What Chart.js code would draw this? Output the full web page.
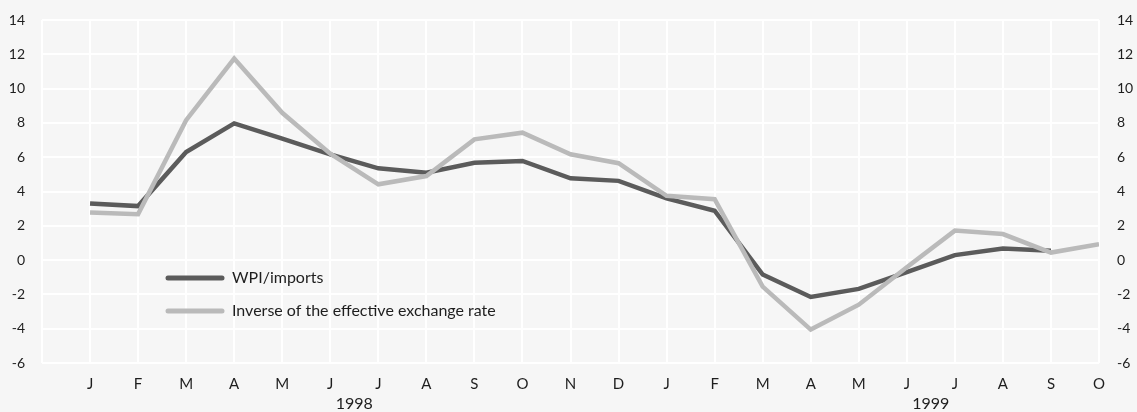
<!DOCTYPE html>
<html>
<head>
<meta charset="utf-8">
<script src="https://cdn.jsdelivr.net/npm/chart.js@4.4.1/dist/chart.umd.min.js"></script>
<style>
  html, body { margin: 0; padding: 0; background: #f6f6f6; }
  #wrap { width: 1137px; height: 412px; position: relative; }
</style>
</head>
<body>
<div id="wrap"><canvas id="chart"></canvas></div>
<script>
// month letters, Jan 1998 .. Oct 1999
const months = ["J","F","M","A","M","J","J","A","S","O","N","D",
                "J","F","M","A","M","J","J","A","S","O"];
const years = ["1998", "1999"];
const seriesNames = ["WPI/imports", "Inverse of the effective exchange rate"];

// year-on-year % change
const wpiImports = [3.3, 3.15, 6.3, 7.97, 7.08, 6.17, 5.35, 5.1, 5.68, 5.78, 4.77, 4.62,
                    3.6, 2.88, -0.84, -2.15, -1.68, -0.7, 0.29, 0.68, 0.54, null];
const inverseRate = [2.77, 2.68, 8.16, 11.75, 8.59, 6.2, 4.42, 4.9, 7.04, 7.43, 6.17, 5.65,
                     3.75, 3.55, -1.55, -4.05, -2.6, -0.42, 1.72, 1.52, 0.44, 0.93];

const yMin = -6, yMax = 14, yStep = 2;

const DARK = "#5b5b5b";
const LIGHT = "#bababa";
const TEXT = "#1e1e1e";
const FONT = "Lato";

Chart.defaults.font.family = FONT;
Chart.defaults.font.size = 14;
Chart.defaults.color = TEXT;

const toPoints = arr => arr.map((v, i) => ({ x: i, y: v }));

// year captions under the month letters
const yearLabels = {
  id: "yearLabels",
  afterDraw(chart) {
    const { ctx, scales: { x } } = chart;
    ctx.save();
    ctx.font = "16px " + FONT;
    ctx.fillStyle = TEXT;
    ctx.textAlign = "center";
    ctx.textBaseline = "middle";
    years.forEach((y, i) => {
      ctx.fillText(y, x.getPixelForValue(i * 12 + 5.5), 404);
    });
    ctx.restore();
  }
};

// legend sitting inside the plot, lower left
const innerLegend = {
  id: "innerLegend",
  afterDatasetsDraw(chart) {
    const { ctx, chartArea } = chart;
    const x0 = chartArea.left + 124;
    const rows = [
      { label: seriesNames[0], color: DARK, y: 278 },
      { label: seriesNames[1], color: LIGHT, y: 311 }
    ];
    ctx.save();
    ctx.lineWidth = 5;
    ctx.lineCap = "round";
    ctx.font = "16px " + FONT;
    ctx.textBaseline = "middle";
    rows.forEach(r => {
      ctx.strokeStyle = r.color;
      ctx.beginPath();
      ctx.moveTo(x0 + 2, r.y);
      ctx.lineTo(x0 + 56, r.y);
      ctx.stroke();
      ctx.fillStyle = TEXT;
      ctx.fillText(r.label, x0 + 66, r.y);
    });
    ctx.restore();
  }
};

const yAxis = (position) => ({
  type: "linear",
  position,
  min: yMin,
  max: yMax,
  grid: { display: position === "left", color: "#ffffff", lineWidth: 2, drawTicks: false },
  border: { display: false },
  ticks: { stepSize: yStep, padding: position === "left" ? 17 : 18 },
  afterFit(scale) {
    scale.width = position === "left" ? 42 : 38;
    scale.paddingTop = 0;
    scale.paddingBottom = 0;
  }
});

new Chart(document.getElementById("chart"), {
  type: "line",
  data: {
    datasets: [
      {
        label: seriesNames[1],
        data: toPoints(inverseRate),
        borderColor: LIGHT,
        borderWidth: 4.5,
        yAxisID: "y"
      },
      {
        label: seriesNames[0],
        data: toPoints(wpiImports),
        borderColor: DARK,
        borderWidth: 4.5,
        yAxisID: "y"
      }
    ]
  },
  options: {
    responsive: true,
    maintainAspectRatio: false,
    animation: false,
    layout: { padding: { top: 20, bottom: 0, left: 0, right: 0 } },
    elements: {
      point: { radius: 0 },
      line: { tension: 0, borderJoinStyle: "miter", borderCapStyle: "butt", fill: false }
    },
    plugins: {
      legend: { display: false },
      tooltip: { enabled: false }
    },
    scales: {
      x: {
        type: "linear",
        min: -1,
        max: months.length - 1,
        grid: { color: "#ffffff", lineWidth: 2, drawTicks: false },
        border: { display: false },
        ticks: {
          stepSize: 1,
          autoSkip: false,
          maxRotation: 0,
          padding: 12,
          font: { size: 15 },
          callback: v => months[v] ?? ""
        },
        afterFit(scale) { scale.height = 49; }
      },
      y: yAxis("left"),
      y2: yAxis("right")
    }
  },
  plugins: [yearLabels, innerLegend]
});
</script>
</body>
</html>
